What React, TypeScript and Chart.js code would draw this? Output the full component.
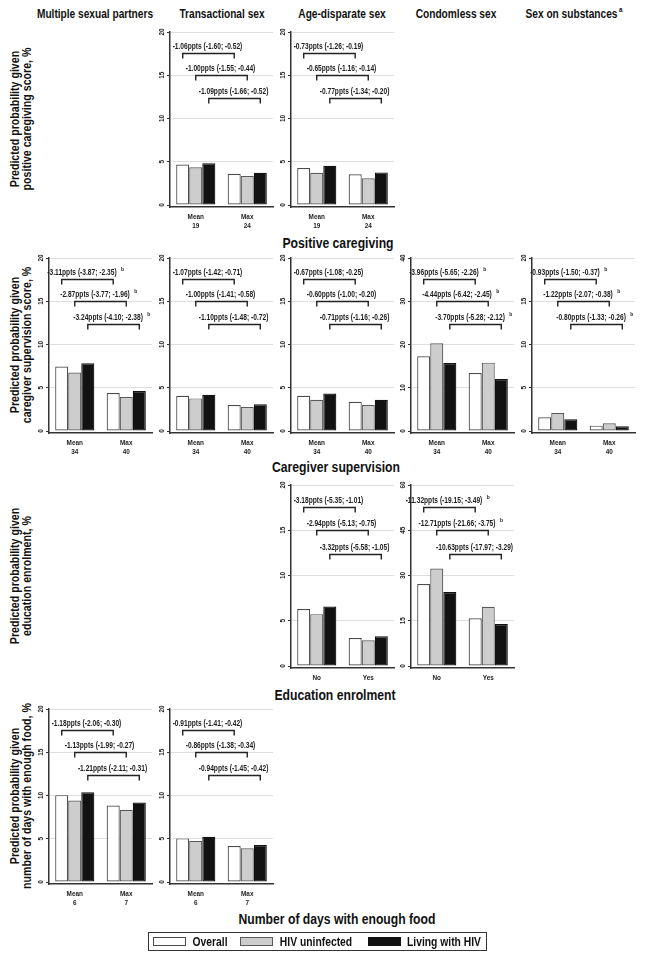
import React, { useEffect, useRef } from "react";
import { Chart, registerables } from "chart.js";
Chart.register(...registerables);

const FONT = '"Liberation Sans", Arial, Helvetica, sans-serif';

// ---------- labels ----------
const SERIES = ["Overall", "HIV uninfected", "Living with HIV"];
const COLUMN_TITLES = ["Multiple sexual partners", "Transactional sex", "Age-disparate sex", "Condomless sex", "Sex on substances"];
const ROW_TITLES = ["Positive caregiving", "Caregiver supervision", "Education enrolment", "Number of days with enough food"];
const Y_TITLES = [
  ["Predicted probability given", "positive caregiving score, %"],
  ["Predicted probability given", "caregiver supervision score, %"],
  ["Predicted probability given", "education enrolment, %"],
  ["Predicted probability given", "number of days with enough food, %"],
];

// ---------- tick labels ----------
const TICKS_20 = [0, 5, 10, 15, 20];
const TICKS_40 = [0, 10, 20, 30, 40];
const TICKS_60 = [0, 15, 30, 45, 60];

// ---------- categories ----------
const CATS_PC = [["Mean", "19"], ["Max", "24"]];
const CATS_CS = [["Mean", "34"], ["Max", "40"]];
const CATS_EE = [["No"], ["Yes"]];
const CATS_FOOD = [["Mean", "6"], ["Max", "7"]];

// ---------- values (Overall / HIV uninfected / Living with HIV) ----------
// Positive caregiving
const pcTransOverall = [4.68, 3.62];
const pcTransUninf = [4.36, 3.35];
const pcTransLiving = [4.82, 3.73];
const pcTransNotes = ["-1.06ppts (-1.60; -0.52)", "-1.00ppts (-1.55; -0.44)", "-1.09ppts (-1.66; -0.52)"];

const pcAgeOverall = [4.28, 3.55];
const pcAgeUninf = [3.73, 3.08];
const pcAgeLiving = [4.54, 3.77];
const pcAgeNotes = ["-0.73ppts (-1.26; -0.19)", "-0.65ppts (-1.16; -0.14)", "-0.77ppts (-1.34; -0.20)"];

// Caregiver supervision
const csMultiOverall = [7.45, 4.38];
const csMultiUninf = [6.76, 3.92];
const csMultiLiving = [7.83, 4.61];
const csMultiNotes = ["-3.11ppts (-3.87; -2.35)", "-2.87ppts (-3.77; -1.96)", "-3.24ppts (-4.10; -2.38)"];

const csTransOverall = [4.07, 3.01];
const csTransUninf = [3.77, 2.77];
const csTransLiving = [4.19, 3.1];
const csTransNotes = ["-1.07ppts (-1.42; -0.71)", "-1.00ppts (-1.41; -0.58)", "-1.10ppts (-1.48; -0.72)"];

const csAgeOverall = [4.07, 3.38];
const csAgeUninf = [3.61, 3.0];
const csAgeLiving = [4.34, 3.61];
const csAgeNotes = ["-0.67ppts (-1.08; -0.25)", "-0.60ppts (-1.00; -0.20)", "-0.71ppts (-1.16; -0.26)"];

const csCondOverall = [17.3, 13.4];
const csCondUninf = [20.3, 15.8];
const csCondLiving = [15.7, 12.0];
const csCondNotes = ["-3.96ppts (-5.65; -2.26)", "-4.44ppts (-6.42; -2.45)", "-3.70ppts (-5.28; -2.12)"];

const csSubsOverall = [1.58, 0.62];
const csSubsUninf = [2.07, 0.89];
const csSubsLiving = [1.35, 0.54];
const csSubsNotes = ["-0.93ppts (-1.50; -0.37)", "-1.22ppts (-2.07; -0.38)", "-0.80ppts (-1.33; -0.26)"];

// Education enrolment
const eeAgeOverall = [6.29, 3.1];
const eeAgeUninf = [5.73, 2.85];
const eeAgeLiving = [6.58, 3.29];
const eeAgeNotes = ["-3.18ppts (-5.35; -1.01)", "-2.94ppts (-5.13; -0.75)", "-3.32ppts (-5.58; -1.05)"];

const eeCondOverall = [27.2, 15.8];
const eeCondUninf = [32.3, 19.6];
const eeCondLiving = [24.5, 13.9];
const eeCondNotes = ["-11.32ppts (-19.15; -3.49)", "-12.71ppts (-21.66; -3.75)", "-10.63ppts (-17.97; -3.29)"];

// Number of days with enough food
const foodMultiOverall = [10.04, 8.85];
const foodMultiUninf = [9.42, 8.35];
const foodMultiLiving = [10.38, 9.19];
const foodMultiNotes = ["-1.18ppts (-2.06; -0.30)", "-1.13ppts (-1.99; -0.27)", "-1.21ppts (-2.11; -0.31)"];

const foodTransOverall = [5.04, 4.15];
const foodTransUninf = [4.73, 3.89];
const foodTransLiving = [5.23, 4.27];
const foodTransNotes = ["-0.91ppts (-1.41; -0.42)", "-0.86ppts (-1.38; -0.34)", "-0.94ppts (-1.45; -0.42)"];

const SUP_ALL = [true, true, true];
const SUP_NONE = [false, false, false];
const SUP_FIRST_TWO = [true, true, false];

type PanelDef = {
  row: number; col: number; ticks: number[]; cats: string[][];
  overall: number[]; uninf: number[]; living: number[]; notes: string[]; sup: boolean[];
};

const PANELS: PanelDef[] = [
  { row: 0, col: 1, ticks: TICKS_20, cats: CATS_PC, overall: pcTransOverall, uninf: pcTransUninf, living: pcTransLiving, notes: pcTransNotes, sup: SUP_NONE },
  { row: 0, col: 2, ticks: TICKS_20, cats: CATS_PC, overall: pcAgeOverall, uninf: pcAgeUninf, living: pcAgeLiving, notes: pcAgeNotes, sup: SUP_NONE },
  { row: 1, col: 0, ticks: TICKS_20, cats: CATS_CS, overall: csMultiOverall, uninf: csMultiUninf, living: csMultiLiving, notes: csMultiNotes, sup: SUP_ALL },
  { row: 1, col: 1, ticks: TICKS_20, cats: CATS_CS, overall: csTransOverall, uninf: csTransUninf, living: csTransLiving, notes: csTransNotes, sup: SUP_NONE },
  { row: 1, col: 2, ticks: TICKS_20, cats: CATS_CS, overall: csAgeOverall, uninf: csAgeUninf, living: csAgeLiving, notes: csAgeNotes, sup: SUP_NONE },
  { row: 1, col: 3, ticks: TICKS_40, cats: CATS_CS, overall: csCondOverall, uninf: csCondUninf, living: csCondLiving, notes: csCondNotes, sup: SUP_ALL },
  { row: 1, col: 4, ticks: TICKS_20, cats: CATS_CS, overall: csSubsOverall, uninf: csSubsUninf, living: csSubsLiving, notes: csSubsNotes, sup: SUP_ALL },
  { row: 2, col: 2, ticks: TICKS_20, cats: CATS_EE, overall: eeAgeOverall, uninf: eeAgeUninf, living: eeAgeLiving, notes: eeAgeNotes, sup: SUP_NONE },
  { row: 2, col: 3, ticks: TICKS_60, cats: CATS_EE, overall: eeCondOverall, uninf: eeCondUninf, living: eeCondLiving, notes: eeCondNotes, sup: SUP_FIRST_TWO },
  { row: 3, col: 0, ticks: TICKS_20, cats: CATS_FOOD, overall: foodMultiOverall, uninf: foodMultiUninf, living: foodMultiLiving, notes: foodMultiNotes, sup: SUP_NONE },
  { row: 3, col: 1, ticks: TICKS_20, cats: CATS_FOOD, overall: foodTransOverall, uninf: foodTransUninf, living: foodTransLiving, notes: foodTransNotes, sup: SUP_NONE },
];

// ---------- layout ----------
const COL_X = [49, 170, 291, 411, 532];
const PLOT_W = 103;
const ROW_TOP = [32, 258, 485, 709];
const ROW_ZERO = [205, 431, 666, 882];
const PADL = 22, PADR = 8, PADT = 6, PADB = 30;

const BAR_STYLE = [
  { backgroundColor: "#ffffff", borderColor: "#4a4a4a" },
  { backgroundColor: "#cdcdcd", borderColor: "#5a5a5a" },
  { backgroundColor: "#121212", borderColor: "#121212" },
];

function drawSquished(ctx: CanvasRenderingContext2D, text: string, x: number, y: number, sx: number, rot = 0) {
  ctx.save();
  ctx.translate(x, y);
  if (rot) ctx.rotate(rot);
  ctx.scale(sx, 1);
  ctx.fillText(text, 0, 0);
  ctx.restore();
}

function makePlugin(p: PanelDef) {
  return {
    id: "annot",
    afterDraw(chart: any) {
      const { ctx, chartArea, scales } = chart;
      const x = scales.x, y = scales.y;
      const max = p.ticks[p.ticks.length - 1];
      ctx.save();
      ctx.fillStyle = "#1c1c1c";
      ctx.textAlign = "center";
      ctx.textBaseline = "middle";
      // y tick labels (vertical)
      ctx.font = `bold 8px ${FONT}`;
      p.ticks.forEach((v) => {
        drawSquished(ctx, String(v), chartArea.left - 8, y.getPixelForValue(v), 0.8, -Math.PI / 2);
      });
      // x category labels
      ctx.font = `bold 8px ${FONT}`;
      p.cats.forEach((lab, i) => {
        const px = x.getPixelForValue(i);
        lab.forEach((line, j) => {
          drawSquished(ctx, line, px, chartArea.bottom + 10 + j * 9, 0.8);
        });
      });
      // brackets and contrasts
      ctx.strokeStyle = "#222";
      ctx.lineWidth = 1.4;
      for (let s = 0; s < 3; s++) {
        const meta = chart.getDatasetMeta(s);
        const xa = meta.data[0].x, xb = meta.data[1].x;
        const ly = Math.round(y.getPixelForValue(max * (0.877 - 0.128 * s))) + 0.5;
        ctx.beginPath();
        ctx.moveTo(xa, ly + 5);
        ctx.lineTo(xa, ly);
        ctx.lineTo(xb, ly);
        ctx.lineTo(xb, ly + 5);
        ctx.stroke();
        ctx.font = `bold 8.5px ${FONT}`;
        const tw = ctx.measureText(p.notes[s]).width * 0.78;
        const total = tw + (p.sup[s] ? 9 : 0);
        const left = (xa + xb) / 2 - total / 2 - 1;
        drawSquished(ctx, p.notes[s], left + tw / 2, ly - 6.5, 0.78);
        if (p.sup[s]) {
          ctx.font = `bold 5.5px ${FONT}`;
          drawSquished(ctx, "b", left + tw + 6, ly - 10, 0.9);
        }
      }
      ctx.restore();
    },
  };
}

function PanelChart({ p }: { p: PanelDef }) {
  const ref = useRef<HTMLCanvasElement>(null);
  const x0 = COL_X[p.col];
  const yTop = ROW_TOP[p.row];
  const yAxis = ROW_ZERO[p.row] + 2;
  const W = PLOT_W + PADL + PADR;
  const H = yAxis - yTop + PADT + PADB;
  useEffect(() => {
    const max = p.ticks[p.ticks.length - 1];
    const frac = 2 / (ROW_ZERO[p.row] - yTop);
    const series = [p.overall, p.uninf, p.living];
    const chart = new Chart(ref.current as HTMLCanvasElement, {
      type: "bar",
      data: {
        labels: p.cats.map((c) => c.join(" ")),
        datasets: series.map((d, i) => ({
          label: SERIES[i],
          data: d,
          backgroundColor: BAR_STYLE[i].backgroundColor,
          borderColor: BAR_STYLE[i].borderColor,
          borderWidth: 1.2,
          borderSkipped: false as any,
          categoryPercentage: 0.76,
          barPercentage: 1.0,
        })),
      },
      options: {
        animation: false,
        responsive: false,
        maintainAspectRatio: false,
        layout: { padding: { top: PADT, right: PADR, left: 0, bottom: 0 } },
        plugins: { legend: { display: false }, tooltip: { enabled: false } },
        scales: {
          x: {
            type: "category",
            offset: true,
            grid: { display: true, drawOnChartArea: false, drawTicks: false },
            border: { display: true, color: "#333", width: 1.5 },
            ticks: { display: false },
            afterFit: (s: any) => { s.height = PADB; },
          },
          y: {
            type: "linear",
            min: -max * frac,
            max: max,
            afterBuildTicks: (s: any) => { s.ticks = p.ticks.map((v) => ({ value: v })); },
            grid: {
              color: (c: any) => (c.tick && c.tick.value === 0 ? "rgba(0,0,0,0)" : "#dedede"),
              lineWidth: 1,
              drawTicks: true,
              tickLength: 3,
              tickColor: "#333",
              tickWidth: 1,
            },
            border: { display: true, color: "#333", width: 1.5 },
            ticks: { display: false },
            afterFit: (s: any) => { s.width = PADL; },
          },
        },
      } as any,
      plugins: [makePlugin(p)],
    });
    return () => chart.destroy();
  }, []);
  return (
    <canvas
      ref={ref}
      width={W}
      height={H}
      style={{ position: "absolute", left: x0 - PADL, top: yTop - PADT, width: W, height: H }}
    />
  );
}

function Txt({ x, y, size, sx, children, rot = 0, bold = true, lh }: any) {
  return (
    <div
      style={{
        position: "absolute",
        left: x,
        top: y,
        transform: `translate(-50%, -50%) rotate(${rot}deg) scaleX(${sx})`,
        fontSize: size,
        fontWeight: bold ? 700 : 400,
        whiteSpace: "nowrap",
        textAlign: "center",
        lineHeight: lh ? `${lh}px` : "normal",
        fontFamily: FONT,
        color: "#111",
      }}
    >
      {children}
    </div>
  );
}

const COL_TITLE_X = [95, 222, 342, 456, 574];
const ROW_TITLE_X = [338, 336, 335, 337];
const ROW_TITLE_Y = [243, 467, 695, 919];

export default function App() {
  return (
    <div style={{ position: "absolute", left: 0, top: 0, width: 647, height: 960, background: "#fff", overflow: "hidden" }}>
      {COLUMN_TITLES.map((t, i) => (
        <Txt key={t} x={COL_TITLE_X[i]} y={13} size={13} sx={0.78}>
          {t}
          {i === 4 ? <sup style={{ fontSize: 8, verticalAlign: "6px", marginLeft: 2 }}>a</sup> : null}
        </Txt>
      ))}
      {Y_TITLES.map((lines, r) => (
        <Txt key={r} x={21} y={(ROW_TOP[r] + ROW_ZERO[r]) / 2} size={12.5} sx={0.85} rot={-90} lh={12}>
          {lines[0]}
          <br />
          {lines[1]}
        </Txt>
      ))}
      {ROW_TITLES.map((t, i) => (
        <Txt key={t} x={ROW_TITLE_X[i]} y={ROW_TITLE_Y[i]} size={14.5} sx={0.84}>
          {t}
        </Txt>
      ))}
      {PANELS.map((p, i) => (
        <PanelChart key={i} p={p} />
      ))}
      <div style={{ position: "absolute", left: 148, top: 932, width: 339, height: 19, border: "1.5px solid #333", boxSizing: "border-box" }} />
      {SERIES.map((s, i) => {
        const sw = [153, 240, 368][i];
        const lx = [209.5, 316, 444][i];
        return (
          <React.Fragment key={s}>
            <div
              style={{
                position: "absolute",
                left: sw,
                top: 937,
                width: 33,
                height: 9,
                boxSizing: "border-box",
                background: BAR_STYLE[i].backgroundColor,
                border: `1.2px solid ${BAR_STYLE[i].borderColor}`,
              }}
            />
            <Txt x={lx} y={942} size={12} sx={0.86}>
              {s}
            </Txt>
          </React.Fragment>
        );
      })}
    </div>
  );
}
